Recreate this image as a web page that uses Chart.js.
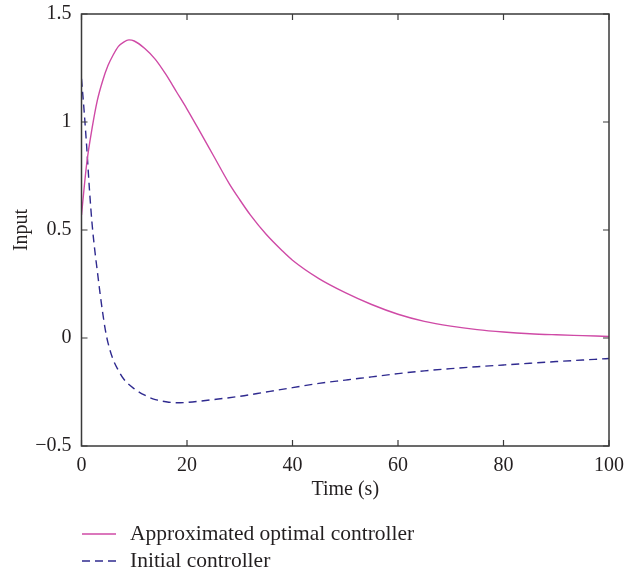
<!DOCTYPE html>
<html>
<head>
<meta charset="utf-8">
<script src="https://cdn.jsdelivr.net/npm/chart.js@4/dist/chart.umd.min.js"></script>
<style>
  html,body{margin:0;padding:0;background:#fff;}
  #wrap{width:639px;height:576px;position:relative;}
</style>
</head>
<body>
<div id="wrap"><canvas id="c" width="639" height="576"></canvas></div>
<script>
// ─── DATA ─────────────────────────────────────────────────────────────────────
const tOptimal = [0,1,2,3,4,5,6,7,8,9,10,12,14,16,18,20,22,25,28,30,32,35,38,40,45,50,55,60,65,70,75,80,85,90,95,100];
const uOptimal = [0.57,0.81,0.97,1.10,1.19,1.26,1.31,1.35,1.37,1.38,1.375,1.34,1.29,1.22,1.14,1.06,0.975,0.845,0.715,0.64,0.57,0.48,0.405,0.36,0.275,0.21,0.155,0.11,0.077,0.055,0.039,0.028,0.02,0.015,0.011,0.007];
const tInitial = [0,0.5,1,1.5,2,2.5,3,3.5,4,4.5,5,6,7,8,10,12,14,16,18,20,25,30,35,40,45,50,55,60,65,70,75,80,85,90,95,100];
const uInitial = [1.2,1.05,0.88,0.69,0.53,0.41,0.31,0.21,0.12,0.04,-0.02,-0.10,-0.15,-0.19,-0.235,-0.265,-0.285,-0.295,-0.30,-0.298,-0.285,-0.27,-0.25,-0.23,-0.21,-0.195,-0.18,-0.165,-0.152,-0.142,-0.133,-0.125,-0.117,-0.109,-0.102,-0.095];
const xTicks = [0,20,40,60,80,100];
const yTicks = [-0.5,0,0.5,1,1.5];
const seriesLabels = ['Approximated optimal controller','Initial controller'];

const FONT = '"Liberation Serif", "DejaVu Serif", serif';
const AXIS = '#3a3a3a';
const pts = (xs, ys) => xs.map((x,i)=>({x, y:ys[i]}));
const fmtY = v => v < 0 ? '\u2212' + Math.abs(v) : String(v);

// box + inward ticks
const boxPlugin = {
  id:'box',
  afterDraw(chart){
    const {ctx, chartArea:a, scales:{x, y}} = chart;
    ctx.save();
    ctx.strokeStyle = AXIS; ctx.lineWidth = 1.5;
    ctx.strokeRect(a.left, a.top, a.right-a.left, a.bottom-a.top);
    ctx.lineWidth = 1.2;
    ctx.beginPath();
    xTicks.forEach(v=>{ const px=x.getPixelForValue(v);
      ctx.moveTo(px,a.bottom); ctx.lineTo(px,a.bottom-6);
      ctx.moveTo(px,a.top); ctx.lineTo(px,a.top+6); });
    yTicks.forEach(v=>{ const py=y.getPixelForValue(v);
      ctx.moveTo(a.left,py); ctx.lineTo(a.left+6,py);
      ctx.moveTo(a.right,py); ctx.lineTo(a.right-6,py); });
    ctx.stroke();
    ctx.restore();
  }
};

// legend under the axes, drawn from the datasets
const legendPlugin = {
  id:'legendBelow',
  afterDraw(chart){
    const {ctx} = chart;
    ctx.save();
    ctx.font = '21.5px ' + FONT;
    ctx.textBaseline = 'middle';
    chart.data.datasets.forEach((ds,i)=>{
      const yy = 534 + i*27;
      ctx.strokeStyle = ds.borderColor; ctx.lineWidth = 1.3;
      ctx.setLineDash(ds.borderDash || []);
      ctx.beginPath(); ctx.moveTo(82,yy); ctx.lineTo(116,yy); ctx.stroke();
      ctx.setLineDash([]);
      ctx.fillStyle = '#231f20';
      ctx.fillText(ds.label, 130, yy);
    });
    ctx.restore();
  }
};

new Chart(document.getElementById('c'), {
  type:'line',
  data:{datasets:[
    {label:seriesLabels[0], data:pts(tOptimal,uOptimal), borderColor:'#cf4aa6', borderWidth:1.4,
     pointRadius:0, cubicInterpolationMode:'monotone', fill:false},
    {label:seriesLabels[1], data:pts(tInitial,uInitial), borderColor:'#2f2a8f', borderWidth:1.4,
     borderDash:[8,5], pointRadius:0, cubicInterpolationMode:'monotone', fill:false}
  ]},
  options:{
    responsive:false, animation:false,
    layout:{padding:{top:14,right:30,bottom:70,left:0}},
    plugins:{legend:{display:false}, tooltip:{enabled:false}},
    scales:{
      x:{type:'linear', min:0, max:100,
        afterBuildTicks:s=>{ s.ticks = xTicks.map(v=>({value:v})); },
        afterFit:s=>{ s.height = 60; },
        grid:{display:false}, border:{display:false},
        ticks:{color:'#231f20', font:{family:FONT,size:20}, padding:0, maxRotation:0},
        title:{display:true, text:'Time (s)', color:'#231f20', font:{family:FONT,size:20}, padding:{top:8}}},
      y:{type:'linear', min:-0.5, max:1.5,
        afterBuildTicks:s=>{ s.ticks = yTicks.map(v=>({value:v})); },
        afterFit:s=>{ s.width = 81.5; },
        grid:{display:false}, border:{display:false},
        ticks:{color:'#231f20', font:{family:FONT,size:20}, padding:2, callback:v=>fmtY(v)},
        title:{display:true, text:'Input', color:'#231f20', font:{family:FONT,size:20}, padding:{top:10,bottom:4}}}
    }
  },
  plugins:[boxPlugin, legendPlugin]
});
</script>
</body>
</html>
